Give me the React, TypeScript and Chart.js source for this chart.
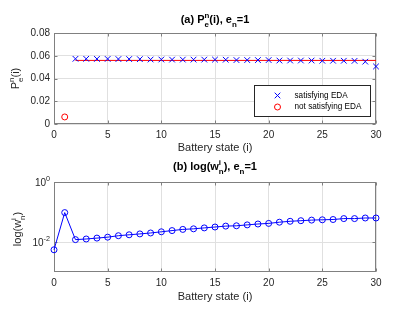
import React, { useEffect, useRef } from 'react';
import { Chart, registerables } from 'chart.js';
Chart.register(...registerables);

// ---------- data ----------
const satStates = [2, 3, 4, 5, 6, 7, 8, 9, 10, 11, 12, 13, 14, 15, 16, 17, 18, 19, 20, 21, 22, 23, 24, 25, 26, 27, 28, 29, 30];
const satValues = [0.0573, 0.0573, 0.0572, 0.0572, 0.0571, 0.0571, 0.0570, 0.0567, 0.0567, 0.0566, 0.0566, 0.0566, 0.0566, 0.0566, 0.0565, 0.0562, 0.0562, 0.0562, 0.0562, 0.0558, 0.0558, 0.0558, 0.0558, 0.0556, 0.0556, 0.0556, 0.0555, 0.0548, 0.0506];
const notSatStates = [1];
const notSatValues = [0.0062];
const levelStates = [2, 30];
const levelValues = [0.0559, 0.0559];
const xTicks = [0, 5, 10, 15, 20, 25, 30];
const yTicksA = [0, 0.02, 0.04, 0.06, 0.08];
const yTickLabelsA = ['0', '0.02', '0.04', '0.06', '0.08'];
const statesB = [0, 1, 2, 3, 4, 5, 6, 7, 8, 9, 10, 11, 12, 13, 14, 15, 16, 17, 18, 19, 20, 21, 22, 23, 24, 25, 26, 27, 28, 29, 30];
const weightsB = [0.0055, 0.0955, 0.0120, 0.0126, 0.0135, 0.0145, 0.0162, 0.0174, 0.0186, 0.0200, 0.0219, 0.0240, 0.0263, 0.0275, 0.0295, 0.0316, 0.0339, 0.0347, 0.0372, 0.0398, 0.0417, 0.0457, 0.0490, 0.0513, 0.0537, 0.0550, 0.0562, 0.0603, 0.0603, 0.0631, 0.0631];
const yTicksB = [0.01, 1];
const yTickExpB = ['-2', '0'];

const FONT = '"Liberation Sans", Arial, Helvetica, sans-serif';
const TXT = '#262626';
const AXIS = '#808080';
const GRID = '#e0e0e0';
const BLUE = '#0000ff';
const RED = '#ff0000';

type Seg = { t: string; sup?: string; sub?: string };

function segWidth(ctx: CanvasRenderingContext2D, segs: Seg[], size: number, bold: boolean) {
  let w = 0;
  for (const s of segs) {
    ctx.font = `${bold ? 'bold ' : ''}${size}px ${FONT}`;
    w += ctx.measureText(s.t).width;
    ctx.font = `${bold ? 'bold ' : ''}${size * 0.72}px ${FONT}`;
    const a = s.sup ? ctx.measureText(s.sup).width : 0;
    const b = s.sub ? ctx.measureText(s.sub).width : 0;
    w += Math.max(a, b);
  }
  return w;
}

function drawRich(ctx: CanvasRenderingContext2D, segs: Seg[], x: number, y: number, size: number, bold: boolean, align: 'center' | 'right' | 'left', color: string) {
  const w = segWidth(ctx, segs, size, bold);
  let cx = align === 'center' ? x - w / 2 : align === 'right' ? x - w : x;
  ctx.fillStyle = color;
  ctx.textBaseline = 'middle';
  ctx.textAlign = 'left';
  for (const s of segs) {
    ctx.font = `${bold ? 'bold ' : ''}${size}px ${FONT}`;
    ctx.fillText(s.t, cx, y);
    cx += ctx.measureText(s.t).width;
    ctx.font = `${bold ? 'bold ' : ''}${size * 0.72}px ${FONT}`;
    let a = 0, b = 0;
    if (s.sup) { ctx.fillText(s.sup, cx, y - size * 0.42); a = ctx.measureText(s.sup).width; }
    if (s.sub) { ctx.fillText(s.sub, cx, y + size * 0.42); b = ctx.measureText(s.sub).width; }
    cx += Math.max(a, b);
  }
}

function drawBox(chart: any) {
  const { ctx, chartArea: ca, scales } = chart;
  ctx.save();
  ctx.strokeStyle = AXIS;
  ctx.lineWidth = 1;
  const l = Math.round(ca.left) + 0.5, r = Math.round(ca.right) - 0.5;
  const t = Math.round(ca.top) + 0.5, b = Math.round(ca.bottom) - 0.5;
  ctx.strokeRect(l, t, r - l, b - t);
  ctx.beginPath();
  const tl = 3;
  for (const v of xTicks) {
    const px = Math.round(scales.x.getPixelForValue(v)) + 0.5;
    ctx.moveTo(px, b); ctx.lineTo(px, b - tl);
    ctx.moveTo(px, t); ctx.lineTo(px, t + tl);
  }
  for (const tk of scales.y.ticks) {
    const py = Math.round(scales.y.getPixelForValue(tk.value)) + 0.5;
    ctx.moveTo(l, py); ctx.lineTo(l + tl, py);
    ctx.moveTo(r, py); ctx.lineTo(r - tl, py);
  }
  ctx.stroke();
  ctx.restore();
}

const tickFont = { family: FONT, size: 10 };

function xScale(height: number) {
  return {
    type: 'linear' as const,
    min: 0,
    max: 30,
    afterBuildTicks: (s: any) => { s.ticks = xTicks.map((value) => ({ value })); },
    afterFit: (s: any) => { s.height = height; },
    ticks: { font: tickFont, color: TXT, padding: 5, maxRotation: 0, callback: (v: any) => String(v) },
    grid: { color: GRID, drawTicks: false, lineWidth: 1 },
    border: { display: false },
  };
}

const plotA = {
  id: 'decorA',
  beforeDatasetsDraw(chart: any) { drawBox(chart); },
  afterDraw(chart: any) {
    const { ctx, chartArea: ca } = chart;
    ctx.save();
    const cx = (ca.left + ca.right) / 2;
    drawRich(ctx, [{ t: '(a) P', sup: 'n', sub: 'e' }, { t: '(i), e', sub: 'n' }, { t: '=1' }], cx, 20, 11, true, 'center', '#000');
    drawRich(ctx, [{ t: 'Battery state (i)' }], cx, 148, 11, false, 'center', TXT);
    ctx.save();
    ctx.translate(16, (ca.top + ca.bottom) / 2);
    ctx.rotate(-Math.PI / 2);
    drawRich(ctx, [{ t: 'P', sup: 'n', sub: 'e' }, { t: '(i)' }], 0, 0, 11, false, 'center', TXT);
    ctx.restore();
    // legend
    const lw = 116, lh = 31;
    const lx = Math.round(ca.right - 6 - lw) + 0.5, ly = Math.round(ca.bottom - 8 - lh) + 0.5;
    ctx.fillStyle = '#fff';
    ctx.fillRect(lx, ly, lw, lh);
    ctx.strokeStyle = TXT;
    ctx.lineWidth = 1;
    ctx.strokeRect(lx, ly, lw, lh);
    const mx = lx + 23, r1 = ly + 10, r2 = ly + 21.5;
    ctx.strokeStyle = BLUE;
    ctx.beginPath();
    ctx.moveTo(mx - 2.8, r1 - 2.8); ctx.lineTo(mx + 2.8, r1 + 2.8);
    ctx.moveTo(mx + 2.8, r1 - 2.8); ctx.lineTo(mx - 2.8, r1 + 2.8);
    ctx.stroke();
    ctx.strokeStyle = RED;
    ctx.beginPath();
    ctx.arc(mx, r2, 3, 0, Math.PI * 2);
    ctx.stroke();
    ctx.fillStyle = '#000';
    ctx.font = `8.2px ${FONT}`;
    ctx.textAlign = 'left';
    ctx.textBaseline = 'middle';
    ctx.fillText('satisfying EDA', lx + 40, r1);
    ctx.fillText('not satisfying EDA', lx + 40, r2);
    ctx.restore();
  },
};

const plotB = {
  id: 'decorB',
  beforeDatasetsDraw(chart: any) { drawBox(chart); },
  afterDraw(chart: any) {
    const { ctx, chartArea: ca, scales } = chart;
    ctx.save();
    const cx = (ca.left + ca.right) / 2;
    drawRich(ctx, [{ t: '(b) log(w', sup: 'i', sub: 'n' }, { t: '), e', sub: 'n' }, { t: '=1' }], cx, 11, 11, true, 'center', '#000');
    drawRich(ctx, [{ t: 'Battery state (i)' }], cx, 141, 11, false, 'center', TXT);
    yTicksB.forEach((v, i) => {
      const py = scales.y.getPixelForValue(v);
      drawRich(ctx, [{ t: '10', sup: yTickExpB[i] }], ca.left - 4, py + 1, 10, false, 'right', TXT);
    });
    ctx.save();
    ctx.translate(18, (ca.top + ca.bottom) / 2 + 2);
    ctx.rotate(-Math.PI / 2);
    drawRich(ctx, [{ t: 'log(w', sup: 'i', sub: 'n' }, { t: ')' }], 0, 0, 11, false, 'center', TXT);
    ctx.restore();
    ctx.restore();
  },
};

export default function App() {
  const refA = useRef<HTMLCanvasElement>(null);
  const refB = useRef<HTMLCanvasElement>(null);

  useEffect(() => {
    const chartA = new Chart(refA.current!, {
      type: 'scatter',
      data: {
        datasets: [
          {
            label: 'satisfying EDA',
            data: satStates.map((x, i) => ({ x, y: satValues[i] })),
            pointStyle: 'crossRot',
            pointRadius: 4,
            pointBorderWidth: 1,
            pointBorderColor: BLUE,
            borderColor: BLUE,
            showLine: false,
            clip: false as any,
            order: 0,
          },
          {
            label: 'not satisfying EDA',
            data: notSatStates.map((x, i) => ({ x, y: notSatValues[i] })),
            pointStyle: 'circle',
            pointRadius: 3,
            pointBorderWidth: 1,
            pointBorderColor: RED,
            pointBackgroundColor: 'rgba(0,0,0,0)',
            showLine: false,
            clip: false as any,
            order: 1,
          },
          {
            label: 'level',
            data: levelStates.map((x, i) => ({ x, y: levelValues[i] })),
            showLine: true,
            borderColor: RED,
            borderWidth: 1,
            pointRadius: 0,
            clip: false as any,
            order: 2,
          },
        ],
      },
      options: {
        animation: false,
        responsive: false,
        events: [],
        layout: { padding: { left: 0, right: 39, top: 33, bottom: 0 } },
        plugins: { legend: { display: false }, tooltip: { enabled: false }, title: { display: false } },
        scales: {
          x: xScale(32) as any,
          y: {
            type: 'linear',
            min: 0,
            max: 0.08,
            afterBuildTicks: (s: any) => { s.ticks = yTicksA.map((value) => ({ value })); },
            afterFit: (s: any) => { s.width = 54; },
            ticks: {
              font: tickFont,
              color: TXT,
              padding: 4,
              callback: (v: any) => { const k = yTicksA.indexOf(v); return k >= 0 ? yTickLabelsA[k] : ''; },
            },
            grid: { color: GRID, drawTicks: false },
            border: { display: false },
          },
        },
      },
      plugins: [plotA],
    });

    const chartB = new Chart(refB.current!, {
      type: 'scatter',
      data: {
        datasets: [
          {
            label: 'log(w)',
            data: statesB.map((x, i) => ({ x, y: weightsB[i] })),
            showLine: true,
            borderColor: BLUE,
            borderWidth: 1,
            pointStyle: 'circle',
            pointRadius: 3,
            pointBorderWidth: 1,
            pointBorderColor: BLUE,
            pointBackgroundColor: 'rgba(0,0,0,0)',
            clip: false as any,
          },
        ],
      },
      options: {
        animation: false,
        responsive: false,
        events: [],
        layout: { padding: { left: 0, right: 39, top: 26, bottom: 0 } },
        plugins: { legend: { display: false }, tooltip: { enabled: false }, title: { display: false } },
        scales: {
          x: xScale(40) as any,
          y: {
            type: 'logarithmic',
            min: 0.001,
            max: 1,
            afterBuildTicks: (s: any) => { s.ticks = yTicksB.map((value) => ({ value })); },
            afterFit: (s: any) => { s.width = 54; },
            ticks: { display: false },
            grid: { color: GRID, drawTicks: false },
            border: { display: false },
          },
        },
      },
      plugins: [plotB],
    });

    return () => { chartA.destroy(); chartB.destroy(); };
  }, []);

  return (
    <div style={{ position: 'fixed', left: 0, top: 0, width: 415, height: 312, background: '#fff' }}>
      <canvas ref={refA} width={415} height={156} style={{ position: 'absolute', left: 0, top: 0, display: 'block' }} />
      <canvas ref={refB} width={415} height={156} style={{ position: 'absolute', left: 0, top: 156, display: 'block' }} />
    </div>
  );
}
